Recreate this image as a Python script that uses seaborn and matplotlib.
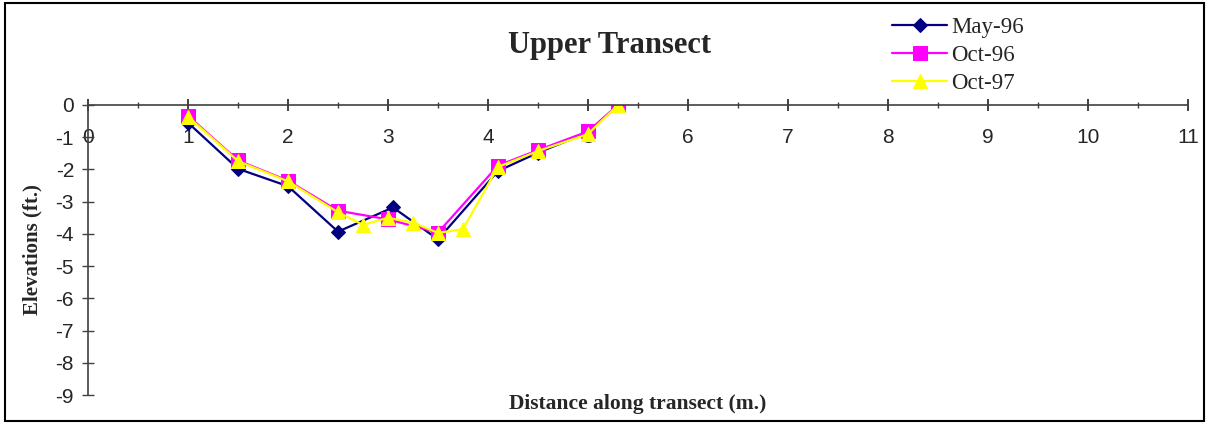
import matplotlib
matplotlib.use("Agg")
import matplotlib.pyplot as plt
import seaborn as sns
import pandas as pd
from matplotlib.patches import Rectangle
from matplotlib.ticker import MultipleLocator

# Data
may96_x = [1, 1.5, 2, 2.5, 3.05, 3.5, 4.1, 4.5, 5, 5.3]
may96_y = [-0.55, -1.98, -2.52, -3.93, -3.18, -4.17, -2.05, -1.48, -0.85, 0.0]
oct96_x = [1, 1.5, 2, 2.5, 3.0, 3.5, 4.1, 4.5, 5, 5.3]
oct96_y = [-0.33, -1.72, -2.35, -3.28, -3.55, -3.96, -1.88, -1.40, -0.82, 0.0]
oct97_x = [1, 1.5, 2, 2.5, 2.75, 3.0, 3.25, 3.5, 3.75, 4.1, 4.5, 5, 5.3]
oct97_y = [-0.36, -1.74, -2.37, -3.33, -3.72, -3.50, -3.65, -3.97, -3.85, -1.92, -1.43, -0.9, 0.0]
series_names = ["May-96", "Oct-96", "Oct-97"]

frames = []
for name, xs, ys in zip(series_names, [may96_x, oct96_x, oct97_x], [may96_y, oct96_y, oct97_y]):
    frames.append(pd.DataFrame({"x": xs, "y": ys, "series": name}))
df = pd.concat(frames, ignore_index=True)

sns.set_style("white")
plt.rcParams["font.family"] = ["Liberation Sans", "DejaVu Sans"]

fig = plt.figure(figsize=(12.09, 4.23), dpi=100)
ax = fig.add_axes([88/1209, 28/423, 1100/1209, 290/423])

palette = {"May-96": "#000080", "Oct-96": "#FF00FF", "Oct-97": "#FFFF00"}
markers = {"May-96": "D", "Oct-96": "s", "Oct-97": "^"}
sizes_m = {"May-96": 7.5, "Oct-96": 9.5, "Oct-97": 10.5}

for name in series_names:
    sub = df[df["series"] == name]
    sns.lineplot(data=sub, x="x", y="y", ax=ax, color=palette[name], marker=markers[name],
                 markersize=sizes_m[name], markeredgecolor=palette[name], linewidth=1.6,
                 estimator=None, sort=False, label=name)

ax.set_xlim(0, 11)
ax.set_ylim(-9, 0)

for s in ["right", "top"]:
    ax.spines[s].set_visible(False)
ax.spines["bottom"].set_position(("data", 0))
for s in ["left", "bottom"]:
    ax.spines[s].set_color("#404040")
    ax.spines[s].set_linewidth(1.2)

ax.xaxis.set_major_locator(MultipleLocator(1))
ax.xaxis.set_minor_locator(MultipleLocator(0.5))
ax.yaxis.set_major_locator(MultipleLocator(1))
ax.tick_params(axis="x", which="major", direction="inout", length=9, width=1.2,
               color="#202020", labelsize=15, pad=12, bottom=True)
ax.tick_params(axis="x", which="minor", direction="inout", length=5, width=1.0,
               color="#404040", bottom=True)
ax.tick_params(axis="y", which="major", direction="inout", length=8, width=1.0,
               color="#404040", labelsize=15, pad=6, left=True)
ax.set_xticks(range(0, 12))
ax.set_xticklabels([str(i) for i in range(0, 12)])
ax.set_yticks(range(-9, 1))
ax.set_yticklabels([str(i) for i in range(-9, 1)])

ax.set_xlabel("Distance along transect (m.)", fontsize=15.5, fontweight="bold",
              family="Liberation Serif")
ax.xaxis.set_label_coords(0.5, 0.005)
ax.set_ylabel("Elevations (ft.)", fontsize=15, fontweight="bold", family="Liberation Serif")
ax.yaxis.set_label_coords(-0.041, 0.5)

fig.text(610/1209, 1 - 46/423, "Upper Transect", ha="center", va="center",
         fontsize=22, fontweight="bold", family="Liberation Serif")

leg = ax.legend(loc="upper left", bbox_to_anchor=(892/1209, 1 - 17/423),
                bbox_transform=fig.transFigure, frameon=False,
                prop={"family": "Liberation Serif", "size": 16.5},
                handlelength=2.4, handletextpad=0.2, labelspacing=0.3, borderpad=0,
                borderaxespad=0)

fig.patches.append(Rectangle((5/1209, 2/423), 1199/1209, 418/423, transform=fig.transFigure,
                             fill=False, edgecolor="black", linewidth=1.5))

fig.savefig("out.png", dpi=100)
